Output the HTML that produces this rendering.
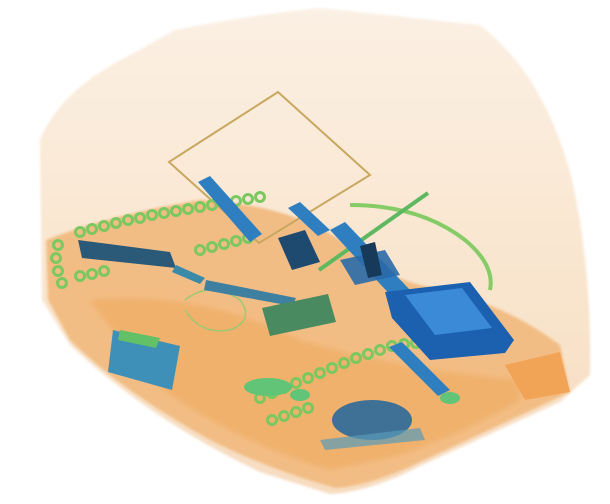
<!DOCTYPE html>
<html><head><meta charset="utf-8"><style>
html,body{margin:0;padding:0;background:#fff;}
svg{display:block;}
</style></head><body>
<svg width="610" height="504" viewBox="0 0 610 504">
<defs>
<filter id="blur1"><feGaussianBlur stdDeviation="3"/></filter>
<filter id="blur2"><feGaussianBlur stdDeviation="1.2"/></filter>
<linearGradient id="bagGrad" x1="0" y1="0" x2="0" y2="1">
<stop offset="0" stop-color="#fbf0e4"/><stop offset="0.5" stop-color="#f9e6d0"/><stop offset="1" stop-color="#f7dcc0"/>
</linearGradient>
</defs>
<g>
<path d="M40,140 Q60,90 130,55 L175,30 Q250,15 320,8 L480,25 Q545,75 572,180 Q592,270 590,375 L560,402 L420,466 Q370,492 330,494 L260,472 Q150,420 70,345 L42,300 Z" fill="url(#bagGrad)" filter="url(#blur2)"/>
</g>
<g>
<path d="M46,240 Q110,215 200,200 Q290,205 340,240 Q380,275 420,285 Q500,300 560,345 L570,392 Q500,425 420,462 Q370,486 335,488 Q270,470 210,440 Q120,390 70,340 L48,300 Z" fill="#f2bd84" filter="url(#blur2)"/>
<path d="M90,300 Q200,290 300,340 Q400,370 520,380 L520,400 Q470,430 400,455 L330,470 Q230,440 150,380 Z" fill="#efac62" opacity="0.7" filter="url(#blur1)"/>
<path d="M505,365 L560,352 L570,392 L525,400 Z" fill="#f1a456"/>
</g>
<g>
<path d="M169,162 L278,92 L370,175 L259,243 Z" fill="none" stroke="#c8a860" stroke-width="2"/>
</g>
<g fill="none" stroke="#7cc860" stroke-width="3">
<circle cx="80" cy="232" r="4.5"/><circle cx="92" cy="229" r="4.5"/><circle cx="104" cy="226" r="4.5"/><circle cx="116" cy="223" r="4.5"/><circle cx="128" cy="220" r="4.5"/><circle cx="140" cy="218" r="4.5"/><circle cx="152" cy="215" r="4.5"/><circle cx="164" cy="213" r="4.5"/><circle cx="176" cy="211" r="4.5"/><circle cx="188" cy="209" r="4.5"/><circle cx="200" cy="207" r="4.5"/><circle cx="212" cy="205" r="4.5"/><circle cx="224" cy="203" r="4.5"/><circle cx="236" cy="201" r="4.5"/><circle cx="248" cy="199" r="4.5"/><circle cx="260" cy="197" r="4.5"/>
<circle cx="58" cy="245" r="4.5"/><circle cx="56" cy="258" r="4.5"/><circle cx="58" cy="271" r="4.5"/><circle cx="62" cy="283" r="4.5"/>
<circle cx="80" cy="276" r="4.5"/><circle cx="92" cy="274" r="4.5"/><circle cx="104" cy="271" r="4.5"/>
<circle cx="200" cy="250" r="4.5"/><circle cx="212" cy="247" r="4.5"/><circle cx="224" cy="244" r="4.5"/><circle cx="236" cy="241" r="4.5"/><circle cx="248" cy="238" r="4.5"/>
<circle cx="260" cy="398" r="4.5"/><circle cx="272" cy="393" r="4.5"/><circle cx="284" cy="388" r="4.5"/><circle cx="296" cy="383" r="4.5"/><circle cx="308" cy="378" r="4.5"/><circle cx="320" cy="373" r="4.5"/><circle cx="332" cy="368" r="4.5"/><circle cx="344" cy="363" r="4.5"/><circle cx="356" cy="358" r="4.5"/><circle cx="368" cy="354" r="4.5"/><circle cx="380" cy="350" r="4.5"/><circle cx="392" cy="346" r="4.5"/><circle cx="404" cy="344" r="4.5"/><circle cx="416" cy="343" r="4.5"/>
<circle cx="272" cy="420" r="4.5"/><circle cx="284" cy="416" r="4.5"/><circle cx="296" cy="412" r="4.5"/><circle cx="308" cy="408" r="4.5"/>
</g>
<g fill="none" stroke="#86cc66" stroke-width="4">
<path d="M350,205 Q420,205 465,240 Q495,265 490,290"/>
<path d="M185,300 Q210,280 240,300 Q255,320 230,330 Q200,335 185,310" stroke-width="1.5" stroke="#9cc870"/>
</g>
<g stroke="#5db860" stroke-width="4">
<line x1="319" y1="270" x2="428" y2="193"/>
</g>
<g>
<path d="M198,182 L210,176 L262,234 L250,242 Z" fill="#2f7fc0"/>
<path d="M288,208 L300,202 L330,230 L318,236 Z" fill="#2f7fc0"/>
</g>
<g>
<path d="M330,230 L345,222 L410,290 L395,300 Z" fill="#2f7fc0"/>
<path d="M340,260 L385,250 L400,275 L355,285 Z" fill="#2a6aa8" opacity="0.9"/>
<path d="M278,238 L305,230 L320,262 L292,270 Z" fill="#1f4a70"/>
<path d="M360,246 L375,242 L382,275 L368,278 Z" fill="#183a5a"/>
</g>
<g>
<path d="M78,240 L170,252 L176,268 L82,258 Z" fill="#2a5a78"/>
<path d="M176,265 L205,278 L200,284 L172,272 Z" fill="#3a8aa8"/>
<path d="M206,280 L296,298 L292,306 L204,290 Z" fill="#3f7fa0"/>
<path d="M262,308 L328,294 L336,322 L270,336 Z" fill="#4a8a60"/>
<path d="M113,330 L180,346 L172,390 L108,372 Z" fill="#3f90b8"/>
<path d="M120,330 L160,338 L156,348 L118,340 Z" fill="#62c066"/>
</g>
<g>
<path d="M385,292 L470,282 L514,340 L505,353 L430,360 L392,318 Z" fill="#1c60b0"/>
<path d="M405,295 L462,288 L492,328 L435,335 Z" fill="#3a8ad8"/>
<path d="M389,347 L402,342 L450,390 L438,396 Z" fill="#2f7fc0"/>
</g>
<g fill="#62c476">
<ellipse cx="268" cy="387" rx="24" ry="9"/>
<ellipse cx="300" cy="395" rx="10" ry="6"/>
<ellipse cx="450" cy="398" rx="10" ry="6"/>
</g>
<g>
<ellipse cx="372" cy="420" rx="40" ry="20" fill="#2a6a9a" opacity="0.9"/>
<path d="M320,440 L420,428 L425,440 L325,450 Z" fill="#5a9ab8" opacity="0.7"/>
</g>
</svg>
</body></html>
